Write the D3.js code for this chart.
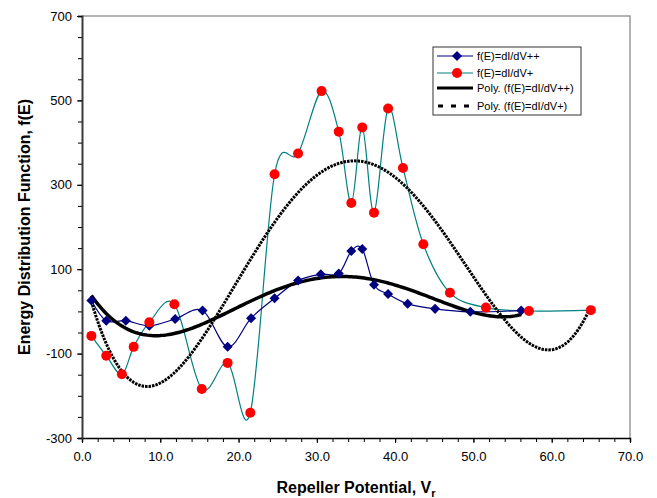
<!DOCTYPE html>
<html>
<head>
<meta charset="utf-8">
<script src="https://cdn.jsdelivr.net/npm/d3@7"></script>
<style>
  body { margin: 0; background: #fff; }
  svg { font-family: Arial, "Liberation Sans", sans-serif; }
</style>
</head>
<body>
<svg id="graph" width="657" height="498"></svg>
<script>
// f(E)=dI/dV++ (navy diamonds)
var vPP = [1.2, 3.1, 5.6, 8.6, 11.9, 15.4, 18.6, 21.6, 24.6, 27.6, 30.5, 32.8, 34.4, 35.8, 37.3, 39.1, 41.6, 45.1, 49.6, 56.1];
var fPP = [26, -22, -22, -34, -18, 2, -84, -16, 31, 73, 88, 90, 143, 148, 63, 41, 18, 6, -1, 2];

// f(E)=dI/dV+ (red circles)
var vP = [1.2, 3.1, 5.1, 6.6, 8.6, 11.8, 15.3, 18.6, 21.5, 24.6, 27.6, 30.6, 32.8, 34.4, 35.8, 37.3, 39.1, 41.0, 43.6, 47.0, 51.6, 57.1, 65.0];
var fP = [-58, -105, -149, -84, -26, 17, -184, -122, -240, 325, 374, 522, 426, 257, 436, 234, 481, 340, 159, 44, 9, 1, 3];

var xTicks = [0, 10, 20, 30, 40, 50, 60, 70];
var yTicks = [-300, -100, 100, 300, 500, 700];
var legendLabels = ['f(E)=dI/dV++', 'f(E)=dI/dV+', 'Poly. (f(E)=dI/dV++)', 'Poly. (f(E)=dI/dV+)'];

var polyOrder = 4;

/*************************************************************************/

// least squares polynomial, like the excel trendline
function polyFit(xs, ys, order){
  var n = order + 1;
  var s = 70; // scale x to keep the normal equations sane
  var A = [], b = [];
  for(var i = 0; i < n; i++){
    A.push(new Array(n).fill(0));
    b.push(0);
  }
  xs.forEach((x, k) => {
    var u = x / s;
    for(var i = 0; i < n; i++){
      b[i] += ys[k] * Math.pow(u, i);
      for(var j = 0; j < n; j++){ A[i][j] += Math.pow(u, i + j); }
    }
  });
  for(var c = 0; c < n; c++){
    var p = c;
    for(var r = c + 1; r < n; r++){ if(Math.abs(A[r][c]) > Math.abs(A[p][c])) p = r; }
    var t = A[c]; A[c] = A[p]; A[p] = t;
    var tb = b[c]; b[c] = b[p]; b[p] = tb;
    for(var r = c + 1; r < n; r++){
      var f = A[r][c] / A[c][c];
      for(var j = c; j < n; j++){ A[r][j] -= f * A[c][j]; }
      b[r] -= f * b[c];
    }
  }
  var coef = new Array(n).fill(0);
  for(var i = n - 1; i >= 0; i--){
    var sum = b[i];
    for(var j = i + 1; j < n; j++){ sum -= A[i][j] * coef[j]; }
    coef[i] = sum / A[i][i];
  }
  return function(x){
    var u = x / s, y = 0;
    for(var i = n - 1; i >= 0; i--){ y = y * u + coef[i]; }
    return y;
  };
}

function trend(xs, ys){
  var fn = polyFit(xs, ys, polyOrder);
  var x0 = d3.min(xs), x1 = d3.max(xs);
  return d3.range(0, 201).map(i => { var x = x0 + (x1 - x0) * i / 200; return [x, fn(x)]; });
}

/*************************************************************************/

var svg = d3.select('#graph');
var pLeft = 82, pRight = 630, pTop = 16, pBottom = 438;

var xScale = d3.scaleLinear().domain([0, 70]).range([pLeft, pRight]);
var yScale = d3.scaleLinear().domain([-300, 700]).range([pBottom, pTop]);

// frame
svg.append('path')
  .attr('d', 'M' + pLeft + ',' + pTop + 'H' + pRight + 'V' + pBottom)
  .style('stroke', '#9a9a9a').style('stroke-width', 1.5).style('fill', 'none');

var xAxis = svg.append('g').attr('transform', 'translate(0,' + pBottom + ')');
xAxis.call(d3.axisBottom(xScale).tickValues(d3.range(0, 71, 2)).tickSize(4).tickFormat(''));
xAxis.selectAll('.tick line').style('stroke', '#000');
xAxis.select('.domain').style('stroke', '#000').style('stroke-width', 1.5);
var xAxisMajor = svg.append('g').attr('transform', 'translate(0,' + pBottom + ')');
xAxisMajor.call(d3.axisBottom(xScale).tickValues(xTicks).tickSize(5).tickPadding(9).tickFormat(d => d.toFixed(1)));
xAxisMajor.select('.domain').remove();
xAxisMajor.selectAll('text').style('font-size', '13px').style('fill', '#000').attr('font-family', 'Arial, "Liberation Sans", sans-serif');

var yAxis = svg.append('g').attr('transform', 'translate(' + pLeft + ',0)');
yAxis.call(d3.axisLeft(yScale).tickValues(d3.range(-300, 701, 50)).tickSize(4).tickFormat(''));
yAxis.select('.domain').style('stroke', '#3a3a3a').style('stroke-width', 2);
var yAxisMajor = svg.append('g').attr('transform', 'translate(' + pLeft + ',0)');
yAxisMajor.call(d3.axisLeft(yScale).tickValues(yTicks).tickSize(5).tickPadding(5).tickFormat(d => String(d)));
yAxisMajor.select('.domain').remove();
yAxisMajor.selectAll('text').style('font-size', '13px').style('fill', '#000').attr('font-family', 'Arial, "Liberation Sans", sans-serif');

// axis titles
svg.append('text')
  .attr('x', 356).attr('y', 493)
  .attr('text-anchor', 'middle')
  .style('font-size', '16px').style('font-weight', 'bold')
  .text('Repeller Potential, V')
  .append('tspan').attr('dy', 4).style('font-size', '11px').text('r');

svg.append('text')
  .attr('transform', 'translate(30,227) rotate(-90)')
  .attr('text-anchor', 'middle')
  .style('font-size', '16px').style('font-weight', 'bold')
  .text('Energy Distribution Function, f(E)');

/*************************************************************************/

var smooth = d3.line().x(d => xScale(d[0])).y(d => yScale(d[1])).curve(d3.curveCardinal.tension(0));
var straight = d3.line().x(d => xScale(d[0])).y(d => yScale(d[1]));

var ptsPP = vPP.map((v, i) => [v, fPP[i]]);
var ptsP = vP.map((v, i) => [v, fP[i]]);

var plot = svg.append('g');

plot.append('path').attr('d', smooth(ptsP))
  .style('stroke', '#008080').style('stroke-width', 1.2).style('fill', 'none');
plot.append('path').attr('d', smooth(ptsPP))
  .style('stroke', '#000080').style('stroke-width', 1.2).style('fill', 'none');

plot.append('path').attr('d', straight(trend(vP, fP)))
  .style('stroke', '#000').style('stroke-width', 3).style('stroke-dasharray', '2.5,1').style('fill', 'none');
plot.append('path').attr('d', straight(trend(vPP, fPP)))
  .style('stroke', '#000').style('stroke-width', 3.5).style('fill', 'none');

var diamond = d3.symbol().type(d3.symbolDiamond2).size(64);

plot.selectAll('.pp').data(ptsPP).enter().append('path')
  .attr('transform', d => 'translate(' + xScale(d[0]) + ',' + yScale(d[1]) + ')')
  .attr('d', diamond)
  .style('fill', '#000080');

plot.selectAll('.p').data(ptsP).enter().append('circle')
  .attr('cx', d => xScale(d[0])).attr('cy', d => yScale(d[1])).attr('r', 5)
  .style('fill', '#ff0000');

/*************************************************************************/

// legend
var legend = svg.append('g').attr('transform', 'translate(433,47)');
legend.append('rect').attr('width', 148).attr('height', 68)
  .style('fill', '#fff').style('stroke', '#333').style('stroke-width', 1);

var rowY = [9, 26, 41, 59];
var lx0 = 4, lx1 = 40;

legend.append('line').attr('x1', lx0).attr('x2', lx1).attr('y1', rowY[0]).attr('y2', rowY[0])
  .style('stroke', '#000080').style('stroke-width', 1.2);
legend.append('path').attr('transform', 'translate(24,' + rowY[0] + ')').attr('d', diamond).style('fill', '#000080');

legend.append('line').attr('x1', lx0).attr('x2', lx1).attr('y1', rowY[1]).attr('y2', rowY[1])
  .style('stroke', '#008080').style('stroke-width', 1.2);
legend.append('circle').attr('cx', 24).attr('cy', rowY[1]).attr('r', 5).style('fill', '#ff0000');

legend.append('line').attr('x1', lx0).attr('x2', lx1).attr('y1', rowY[2]).attr('y2', rowY[2])
  .style('stroke', '#000').style('stroke-width', 3);
legend.append('line').attr('x1', lx0 + 1).attr('x2', lx1).attr('y1', rowY[3]).attr('y2', rowY[3])
  .style('stroke', '#000').style('stroke-width', 3).style('stroke-dasharray', '5,8');

legend.selectAll('.lab').data(legendLabels).enter().append('text')
  .attr('x', 44).attr('y', (d, i) => rowY[i] + 4)
  .style('font-size', '11px')
  .text(d => d);
</script>
</body>
</html>
